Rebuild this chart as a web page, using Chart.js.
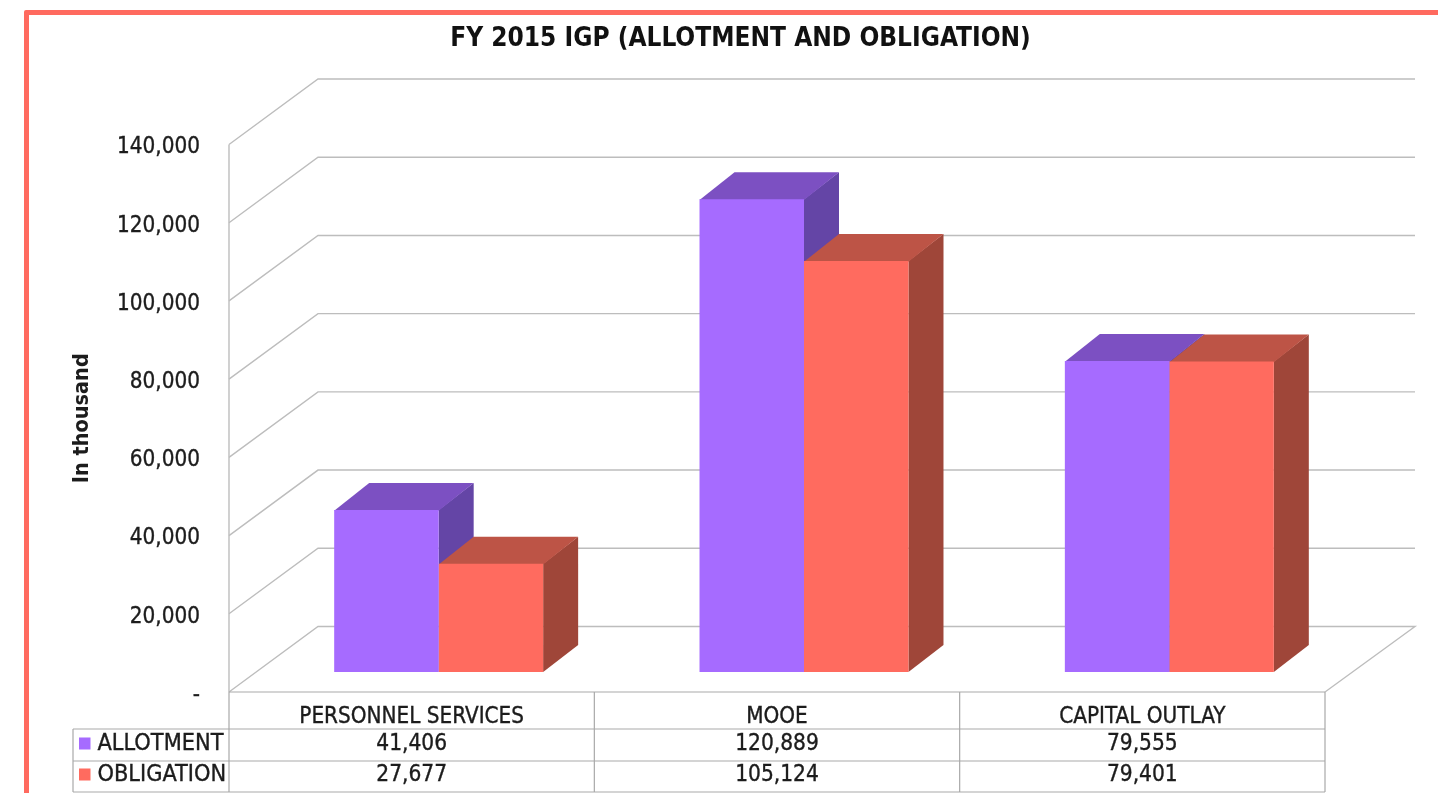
<!DOCTYPE html>
<html>
<head>
<meta charset="utf-8">
<style>
html,body{margin:0;padding:0;background:#fff;overflow:hidden;width:1438px;height:793px}
#frame{position:absolute;left:24px;top:9.5px;width:1440px;height:820px;border:5px solid #ff6a5f;box-sizing:border-box;border-radius:2px}
canvas{position:absolute;left:0;top:0}
</style>
<script src="https://cdn.jsdelivr.net/npm/chart.js@4"></script>
</head>
<body>
<div id="frame"></div>
<canvas id="c" width="1438" height="793"></canvas>
<script>
const titleText = 'FY 2015 IGP (ALLOTMENT AND OBLIGATION)';
const yAxisTitle = 'In thousand';
const categories = ['PERSONNEL SERVICES', 'MOOE', 'CAPITAL OUTLAY'];
const allotment = [41406, 120889, 79555];
const obligation = [27677, 105124, 79401];
const seriesNames = ['ALLOTMENT', 'OBLIGATION'];

const FONT = '"DejaVu Sans Condensed","DejaVu Sans",sans-serif';
const TEXT = '#1c1c1c', GRID = '#bdbdbd', TABLE = '#a9a9a9';
const purple = {front:'#a66bff', top:'#7c50c2', side:'#6445a6'};
const red = {front:'#ff6b5f', top:'#bd5446', side:'#9f4639'};
const fmt = v => v.toLocaleString('en-US');

const wall = {dx:89, dy:-65.5, rightEnd:1415};
const barShift = {dx:27, dy:-20};
const barDepth = {dx:35, dy:-27};

function poly(ctx, pts, fill){
  ctx.beginPath();
  pts.forEach((p,i)=> i ? ctx.lineTo(p[0],p[1]) : ctx.moveTo(p[0],p[1]));
  ctx.closePath();
  ctx.fillStyle = fill;
  ctx.fill();
}

const threeD = {
  id:'threeD',
  afterLayout(chart){
    const t = chart.titleBlock;
    if (t){ t.left += 78; t.right += 78; }
  },
  beforeDatasetsDraw(chart){
    const ctx = chart.ctx, y = chart.scales.y, a = chart.chartArea;
    ctx.save();
    ctx.strokeStyle = GRID; ctx.lineWidth = 1.4;
    y.ticks.forEach(t=>{
      const py = y.getPixelForValue(t.value);
      ctx.beginPath();
      ctx.moveTo(a.left, py);
      ctx.lineTo(a.left + wall.dx, py + wall.dy);
      ctx.lineTo(wall.rightEnd, py + wall.dy);
      if (t.value === 0) ctx.lineTo(a.right, py);
      ctx.stroke();
    });
    ctx.beginPath();
    ctx.moveTo(a.left, a.top); ctx.lineTo(a.left, a.bottom);
    ctx.stroke();
    ctx.restore();

    ctx.save();
    ctx.translate(barShift.dx, barShift.dy);
    const d = barDepth;
    [purple, red].forEach((col, i)=>{
      chart.getDatasetMeta(i).data.forEach(b=>{
        const l = b.x - b.width/2, r = b.x + b.width/2;
        poly(ctx, [[r,b.y],[r+d.dx,b.y+d.dy],[r+d.dx,b.base+d.dy],[r,b.base]], col.side);
        poly(ctx, [[l,b.y+0.8],[l+d.dx,b.y+d.dy],[r+d.dx,b.y+d.dy],[r,b.y+0.8]], col.top);
      });
    });
  },
  afterDatasetsDraw(chart){
    chart.ctx.restore();
  },
  afterDraw(chart){
    const ctx = chart.ctx, a = chart.chartArea, x = chart.scales.x;
    const rows = [729, 761, 792], tableLeft = 73;
    const cols = [a.left];
    categories.forEach((c,i)=> cols.push(a.left + (a.right-a.left)*(i+1)/categories.length));
    ctx.save();
    ctx.strokeStyle = TABLE; ctx.lineWidth = 1.2;
    ctx.beginPath();
    ctx.moveTo(a.left, a.bottom); ctx.lineTo(a.right, a.bottom);
    rows.forEach(r=>{ ctx.moveTo(tableLeft, r); ctx.lineTo(a.right, r); });
    cols.forEach(c=>{ ctx.moveTo(c, a.bottom); ctx.lineTo(c, rows[2]); });
    ctx.moveTo(tableLeft, rows[0]); ctx.lineTo(tableLeft, rows[2]);
    ctx.stroke();

    ctx.textBaseline = 'middle';
    ctx.lineWidth = 0.35;
    ctx.strokeStyle = TEXT;
    [allotment, obligation].forEach((vals, ri)=>{
      const cy = ri === 0 ? 744.5 : 775.5;
      ctx.textAlign = 'center';
      ctx.fillStyle = TEXT;
      ctx.font = '22.5px ' + FONT;
      vals.forEach((v,i)=>{
        ctx.fillText(fmt(v), x.getPixelForTick(i), cy);
        ctx.strokeText(fmt(v), x.getPixelForTick(i), cy);
      });
      ctx.fillStyle = ri === 0 ? purple.front : red.front;
      ctx.fillRect(79, cy-7, 11.5, 12);
      ctx.fillStyle = TEXT;
      ctx.textAlign = 'left';
      ctx.font = '23.3px ' + FONT;
      ctx.fillText(seriesNames[ri], 97.5, cy-0.5);
      ctx.strokeText(seriesNames[ri], 97.5, cy-0.5);
    });
    ctx.restore();
  }
};

new Chart(document.getElementById('c'), {
  type:'bar',
  data:{
    labels:categories,
    datasets:[
      {label:seriesNames[0], data:allotment, backgroundColor:purple.front, clip:false},
      {label:seriesNames[1], data:obligation, backgroundColor:red.front, clip:false}
    ]
  },
  options:{
    responsive:false,
    animation:false,
    devicePixelRatio:1,
    layout:{padding:{left:0,right:113,top:0,bottom:0}},
    datasets:{bar:{barPercentage:1, categoryPercentage:0.572}},
    plugins:{
      legend:{display:false},
      tooltip:{enabled:false},
      title:{display:true, text:titleText, color:'#111',
        font:{family:FONT, size:26, weight:'bold', lineHeight:1.2},
        padding:{top:23.5, bottom:89.8}}
    },
    scales:{
      x:{
        grid:{display:false, drawTicks:false},
        border:{display:false},
        ticks:{color:TEXT, font:{family:FONT, size:22.3}, padding:12, maxRotation:0, autoSkip:false,
          textStrokeColor:TEXT, textStrokeWidth:0.35},
        afterFit(s){ s.height = 101; }
      },
      y:{
        min:0, max:140000,
        grid:{display:false, drawTicks:false},
        border:{display:false},
        ticks:{stepSize:20000, color:TEXT, font:{family:FONT, size:22.3}, padding:29, labelOffset:3,
          textStrokeColor:TEXT, textStrokeWidth:0.35,
          callback:v=> v===0 ? '-' : fmt(v)},
        title:{display:true, text:yAxisTitle, color:TEXT,
          font:{family:FONT, size:21.5, weight:'bold'}, padding:{top:70,bottom:0}},
        afterFit(s){ s.width = 229; }
      }
    }
  },
  plugins:[threeD]
});
</script>
</body>
</html>
